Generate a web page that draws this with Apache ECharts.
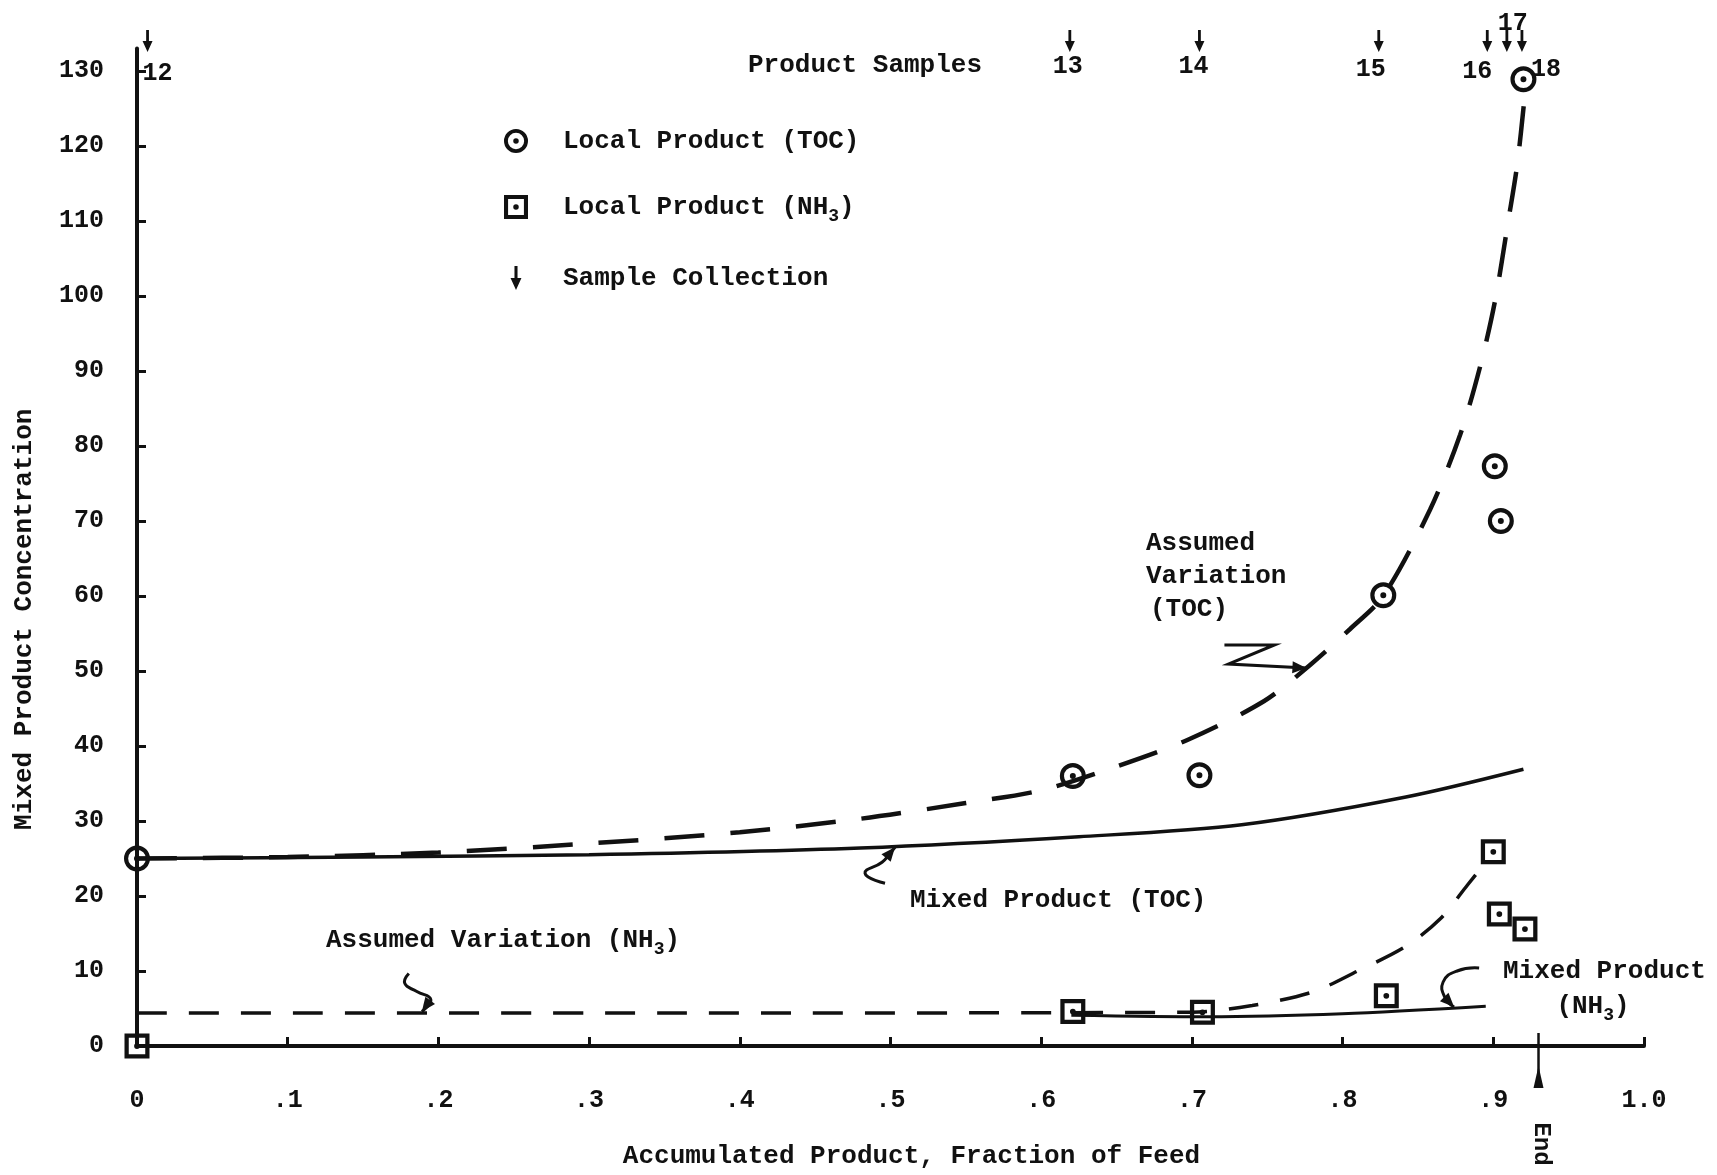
<!DOCTYPE html>
<html>
<head>
<meta charset="utf-8">
<title>Mixed Product Concentration</title>
<script src="https://cdn.jsdelivr.net/npm/echarts@6/dist/echarts.min.js"></script>
<style>
  html, body { margin: 0; padding: 0; background: #fff; }
  #chart { width: 1717px; height: 1175px; }
</style>
</head>
<body>
<div id="chart"></div>
<script>
// local product samples: [fraction of feed, concentration]
const tocSamples = [[0, 25], [0.621, 36], [0.705, 36.1], [0.827, 60.1], [0.901, 77.3], [0.905, 70], [0.920, 128.9]];
const nh3Samples = [[0, 0], [0.621, 4.6], [0.707, 4.5], [0.829, 6.7], [0.900, 25.9], [0.904, 17.6], [0.921, 15.6]];

// hand drawn curves
const tocAssumed = [[0, 25], [0.1, 25.2], [0.2, 25.8], [0.3, 27.0], [0.4, 28.5], [0.48, 30.3], [0.55, 32.4],
  [0.6, 34.1], [0.646, 37], [0.697, 40.8], [0.748, 46], [0.779, 50.9], [0.805, 55.6], [0.827, 60],
  [0.858, 71.5], [0.878, 81.5], [0.891, 90.4], [0.901, 99.2], [0.910, 110.1],
  [0.916, 117.7], [0.921, 127]];
const tocMixed = [[0, 25], [0.15, 25.2], [0.3, 25.5], [0.48, 26.4], [0.625, 27.9], [0.733, 29.5], [0.842, 33.2], [0.92, 36.9]];
const nh3Assumed = [[0, 4.4], [0.35, 4.4], [0.7, 4.5], [0.74, 5.4], [0.78, 7.2], [0.81, 10], [0.842, 13.3],
  [0.865, 17], [0.883, 21.5], [0.893, 24]];
const nh3Mixed = [[0.62, 4.1], [0.71, 3.9], [0.8, 4.3], [0.895, 5.3]];

// sample collection marks along the top
const sampleX = [0.007, 0.619, 0.705, 0.824, 0.896, 0.909, 0.919];
const sampleNo = ['12', '13', '14', '15', '16', '17', '18'];

const xTicks = ['0', '.1', '.2', '.3', '.4', '.5', '.6', '.7', '.8', '.9', '1.0'];
const endX = 0.93;

const FONT = '"Liberation Mono", "DejaVu Sans Mono", monospace';
const INK = '#111';

// symbols: ring with dot, box with dot, down arrow
const RING = 'path://M20,10A10,10,0,1,1,0,10A10,10,0,1,1,20,10ZM16.8,10A6.8,6.8,0,1,0,3.2,10A6.8,6.8,0,1,0,16.8,10ZM12.3,10A2.3,2.3,0,1,1,7.7,10A2.3,2.3,0,1,1,12.3,10Z';
const BOX = 'path://M0,0H20V20H0ZM3.4,3.4V16.6H16.6V3.4ZM12.3,10A2.3,2.3,0,1,1,7.7,10A2.3,2.3,0,1,1,12.3,10Z';
const ARROW = 'path://M3.6,0H6.4V11H10L5,22L0,11H3.6Z';
const ARROW_Y = 134;

// where each sample number sits next to its arrow
const sampleLabel = [
  { position: 'bottom', offset: [10, 7] },
  { position: 'bottom', offset: [-2, 0] },
  { position: 'bottom', offset: [-6, 0] },
  { position: 'bottom', offset: [-8, 3] },
  { position: 'bottom', offset: [-10, 5] },
  { position: 'top', offset: [6, 8] },
  { position: 'bottom', offset: [24, 3] }
];

const sub = { fontSize: 18, fontFamily: FONT, fontWeight: 'bold', color: INK, padding: [18, 0, 0, 0] };
const txt = { fontSize: 26, fontFamily: FONT, fontWeight: 'bold', color: INK };

const curve = (name, data, width, dash) => ({
  name,
  type: 'line',
  data,
  smooth: 0.3,
  symbol: 'none',
  lineStyle: { color: INK, width, type: dash || 'solid' },
  z: 2
});

const option = {
  backgroundColor: '#fff',
  animation: false,
  textStyle: { fontFamily: FONT, fontWeight: 'bold', color: INK },
  grid: { left: 137, top: 48.5, width: 1507, height: 997.5 },
  legend: {
    orient: 'vertical',
    left: 499,
    top: 123,
    itemWidth: 24,
    itemHeight: 24,
    itemGap: 40,
    symbolKeepAspect: true,
    selectedMode: false,
    data: [
      { name: 'Local Product (TOC)', icon: RING },
      { name: 'Local Product (NH3)', icon: BOX },
      { name: 'Sample Collection', icon: ARROW }
    ],
    formatter: n => n.replace('NH3', 'NH{sub|3}'),
    textStyle: Object.assign({}, txt, { padding: [0, 0, 0, 30], rich: { sub } })
  },
  xAxis: {
    type: 'value',
    min: 0,
    max: 1,
    interval: 0.1,
    name: 'Accumulated Product, Fraction of Feed',
    nameLocation: 'middle',
    nameGap: 97,
    nameTextStyle: Object.assign({}, txt, { padding: [0, 0, 0, 42] }),
    axisLine: { lineStyle: { color: INK, width: 4 } },
    axisTick: { inside: true, length: 9, lineStyle: { color: INK, width: 3 } },
    axisLabel: Object.assign({}, txt, { fontSize: 25, margin: 42, formatter: v => xTicks[Math.round(v * 10)] }),
    splitLine: { show: false }
  },
  yAxis: {
    type: 'value',
    min: 0,
    max: 133,
    interval: 10,
    name: 'Mixed Product Concentration',
    nameLocation: 'middle',
    nameGap: 100,
    nameTextStyle: Object.assign({}, txt, { padding: [0, 144, 0, 0] }),
    axisLine: { show: true, lineStyle: { color: INK, width: 4 } },
    axisTick: { show: true, inside: true, length: 9, lineStyle: { color: INK, width: 3 } },
    axisLabel: Object.assign({}, txt, { fontSize: 25, margin: 33, showMaxLabel: false }),
    splitLine: { show: false }
  },
  series: [
    curve('Assumed Variation (TOC)', tocAssumed, 4.5, [40, 26]),
    curve('Mixed Product (TOC)', tocMixed, 3.5),
    curve('Assumed Variation (NH3)', nh3Assumed, 3.5, [30, 22]),
    curve('Mixed Product (NH3)', nh3Mixed, 2.8),
    {
      name: 'Local Product (TOC)',
      type: 'scatter',
      data: tocSamples,
      symbol: RING,
      symbolSize: 26,
      clip: false,
      itemStyle: { color: INK, opacity: 1 },
      z: 3
    },
    {
      name: 'Local Product (NH3)',
      type: 'scatter',
      data: nh3Samples,
      symbol: BOX,
      symbolSize: 25,
      clip: false,
      itemStyle: { color: INK, opacity: 1 },
      z: 3
    },
    {
      name: 'Sample Collection',
      type: 'scatter',
      data: sampleX.map((x, i) => ({ value: [x, ARROW_Y], name: sampleNo[i], label: sampleLabel[i] })),
      symbol: ARROW,
      symbolSize: [10, 22],
      clip: false,
      itemStyle: { color: INK, opacity: 1 },
      label: Object.assign({}, txt, { show: true, fontSize: 25, formatter: '{b}', distance: 2 }),
      z: 3
    }
  ]
};

const chart = echarts.init(document.getElementById('chart'));
chart.setOption(option);

// annotations: squiggly pointers, the End marker and the free text
const px = p => chart.convertToPixel({ gridIndex: 0 }, p);

function pointer(tip, offs, smooth) {
  const t = px(tip);
  const pts = offs.map(o => [t[0] + o[0], t[1] + o[1]]);
  const a = pts[pts.length - 2];
  const b = pts[pts.length - 1];
  const ang = Math.atan2(b[1] - a[1], b[0] - a[0]);
  const L = 14, W = 6;
  const c = Math.cos(ang), s = Math.sin(ang);
  const head = [
    b,
    [b[0] - L * c + W * s, b[1] - L * s - W * c],
    [b[0] - L * c - W * s, b[1] - L * s + W * c]
  ];
  return [
    { type: 'polyline', shape: { points: pts, smooth }, style: { stroke: INK, lineWidth: 3, fill: 'none' } },
    { type: 'polygon', shape: { points: head }, style: { fill: INK } }
  ];
}

const note = (text, x, y, align) => ({
  type: 'text',
  x, y,
  style: {
    text,
    fontSize: 26, fontFamily: FONT, fontWeight: 'bold', fill: INK,
    align: align || 'left', verticalAlign: 'middle',
    rich: { sub: { fontSize: 18, fontFamily: FONT, fontWeight: 'bold', fill: INK, padding: [18, 0, 0, 0] } }
  }
});

const e = px([endX, 0]);

const graphic = [].concat(
  pointer([0.776, 50.4], [[-82, -23], [-32, -23], [-78, -4], [0, 0]], 0),
  pointer([0.503, 26.5], [[-10, 36], [-30, 26], [-13, 15], [-5, 6], [0, 0]], 0.5),
  pointer([0.189, 4.6], [[-13, -38], [-17, -28], [-5, -20], [9, -12], [0, 0]], 0.5),
  pointer([0.874, 5.2], [[25, -39], [3, -36], [-11, -25], [-9, -9], [0, 0]], 0.5),
  [
    { type: 'line', shape: { x1: e[0], y1: e[1] - 13, x2: e[0], y2: e[1] + 30 }, style: { stroke: INK, lineWidth: 2.5 } },
    { type: 'polygon', shape: { points: [[e[0], e[1] + 20], [e[0] - 5, e[1] + 42], [e[0] + 5, e[1] + 42]] }, style: { fill: INK } },
    { type: 'text', x: e[0] + 3, y: e[1] + 98, rotation: -Math.PI / 2,
      style: { text: 'End', fontSize: 24, fontFamily: FONT, fontWeight: 'bold', fill: INK, align: 'center', verticalAlign: 'middle' } },
    note('Product Samples', 865, 65, 'center'),
    note('Assumed', 1146, 543),
    note('Variation', 1146, 576),
    note('(TOC)', 1150, 609),
    note('Mixed Product (TOC)', 910, 900),
    note('Assumed Variation (NH{sub|3})', 326, 940),
    note('Mixed Product', 1503, 971),
    note('(NH{sub|3})', 1593, 1006, 'center')
  ]
);

chart.setOption({ graphic });

window.addEventListener('resize', function () {
  chart && chart.resize();
});
</script>
</body>
</html>
